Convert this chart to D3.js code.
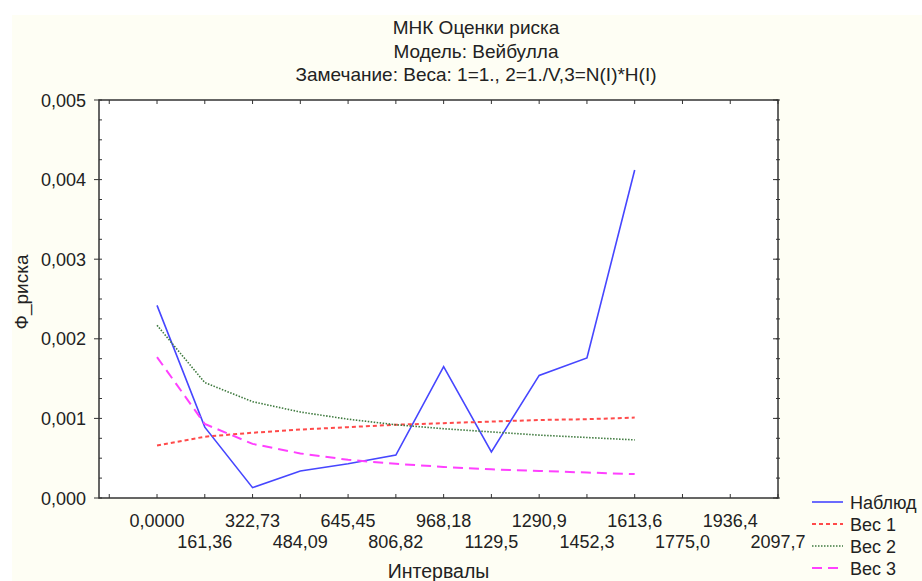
<!DOCTYPE html>
<html>
<head>
<meta charset="utf-8">
<script src="https://cdn.jsdelivr.net/npm/d3@7"></script>
<style>
  body { margin: 0; background: #fff; }
  text { font-family: "Liberation Sans", Arial, sans-serif; fill: #222; font-size: 18px; }
</style>
</head>
<body>
<svg width="922" height="581"></svg>
<script>
const titles = ['МНК Оценки риска', 'Модель: Вейбулла', 'Замечание: Веса: 1=1., 2=1./V,3=N(I)*H(I)']
const intervals = [0, 161.36, 322.73, 484.09, 645.45, 806.82, 968.18, 1129.5, 1290.9, 1452.3, 1613.6]
const xTickValues = [-161.36, 0, 161.36, 322.73, 484.09, 645.45, 806.82, 968.18, 1129.5, 1290.9, 1452.3, 1613.6, 1775.0, 1936.4, 2097.7]
const xTickLabels = ['', '0,0000', '161,36', '322,73', '484,09', '645,45', '806,82', '968,18', '1129,5', '1290,9', '1452,3', '1613,6', '1775,0', '1936,4', '2097,7']
const yTickValues = [0, 0.001, 0.002, 0.003, 0.004, 0.005]
const yTickLabels = ['0,000', '0,001', '0,002', '0,003', '0,004', '0,005']

const observed = [0.00242, 0.00089, 0.00013, 0.00034, 0.00043, 0.00054, 0.00165, 0.00058, 0.00154, 0.00176, 0.00412]
const weight1 = [0.00066, 0.00077, 0.00082, 0.00086, 0.00089, 0.00092, 0.00094, 0.00096, 0.00098, 0.00099, 0.00101]
const weight2 = [0.00217, 0.00145, 0.00121, 0.00108, 0.00099, 0.00092, 0.00087, 0.00083, 0.00079, 0.00076, 0.00073]
const weight3 = [0.00177, 0.00093, 0.00068, 0.00056, 0.00048, 0.00043, 0.00039, 0.00036, 0.00034, 0.00032, 0.0003]

const series = [
    { name: 'Наблюд', values: observed, color: '#4646ff', dash: null, w: 1.6 },
    { name: 'Вес 1', values: weight1, color: '#ff4a4a', dash: '4,3', w: 2 },
    { name: 'Вес 2', values: weight2, color: '#3f7a3f', dash: '1.5,1.5', w: 1.6 },
    { name: 'Вес 3', values: weight3, color: '#ff40ff', dash: '10,6', w: 2 }
]

const plot = { left: 99, top: 100, right: 778, bottom: 498 }

const svg = d3.select('svg')

svg.append('rect')
    .attr('x', 12).attr('y', 15)
    .attr('width', 910).attr('height', 566)
    .attr('fill', '#fefef4')

svg.append('rect')
    .attr('x', plot.left).attr('y', plot.top)
    .attr('width', plot.right - plot.left).attr('height', plot.bottom - plot.top)
    .attr('fill', '#fff')

const xScale = d3.scaleLinear()
    .domain([-196, 2097.7])
    .range([plot.left, plot.right])

const yScale = d3.scaleLinear()
    .domain([0, 0.005])
    .range([plot.bottom, plot.top])

function drawTitle () {
    svg.selectAll('.title')
        .data(titles)
        .enter()
        .append('text')
        .attr('class', 'title')
        .attr('x', 476)
        .attr('y', (d, i) => 34 + i * 23.7)
        .attr('text-anchor', 'middle')
        .style('font-size', '19px')
        .text(d => d)
}

function drawAxes () {
    // x ticks, top and bottom, pointing inward
    const xa = svg.append('g')
    xa.selectAll('.xb')
        .data(xTickValues)
        .enter()
        .append('line')
        .attr('x1', d => xScale(d)).attr('x2', d => xScale(d))
        .attr('y1', plot.bottom).attr('y2', plot.bottom - 4)
        .attr('stroke', '#333')
    xa.selectAll('.xt')
        .data(xTickValues)
        .enter()
        .append('line')
        .attr('x1', d => xScale(d)).attr('x2', d => xScale(d))
        .attr('y1', plot.top).attr('y2', plot.top + 4)
        .attr('stroke', '#333')

    xa.selectAll('.xl')
        .data(xTickValues)
        .enter()
        .append('text')
        .attr('x', d => xScale(d))
        .attr('y', (d, i) => i % 2 === 1 ? 526.5 : 547.5)
        .attr('text-anchor', 'middle')
        .text((d, i) => xTickLabels[i])

    // y ticks, minor every 0.00025
    const minor = d3.range(0, 21).map(i => i * 0.00025)
    const ya = svg.append('g')
    ya.selectAll('.yl')
        .data(minor)
        .enter()
        .append('line')
        .attr('x1', plot.left).attr('x2', plot.left + 3)
        .attr('y1', d => yScale(d)).attr('y2', d => yScale(d))
        .attr('stroke', '#333')
    ya.selectAll('.yr')
        .data(minor)
        .enter()
        .append('line')
        .attr('x1', plot.right - 2).attr('x2', plot.right + 2)
        .attr('y1', d => yScale(d)).attr('y2', d => yScale(d))
        .attr('stroke', '#333')
    ya.selectAll('.ym')
        .data(yTickValues)
        .enter()
        .append('line')
        .attr('x1', plot.left - 5).attr('x2', plot.left)
        .attr('y1', d => yScale(d)).attr('y2', d => yScale(d))
        .attr('stroke', '#333')
    ya.selectAll('.ymr')
        .data(yTickValues)
        .enter()
        .append('line')
        .attr('x1', plot.right - 5).attr('x2', plot.right)
        .attr('y1', d => yScale(d)).attr('y2', d => yScale(d))
        .attr('stroke', '#333')

    ya.selectAll('.ytext')
        .data(yTickValues)
        .enter()
        .append('text')
        .attr('x', 86)
        .attr('y', d => yScale(d) + 6.5)
        .attr('text-anchor', 'end')
        .text((d, i) => yTickLabels[i])

    svg.append('rect')
        .attr('x', plot.left).attr('y', plot.top)
        .attr('width', plot.right - plot.left).attr('height', plot.bottom - plot.top)
        .attr('fill', 'none')
        .attr('stroke', '#333')
        .attr('stroke-width', 1.5)
}

function drawAxisTitles () {
    svg.append('text')
        .attr('transform', 'translate(28, 292) rotate(-90)')
        .attr('text-anchor', 'middle')
        .style('font-size', '19px')
        .text('Ф_риска')

    svg.append('text')
        .attr('x', (plot.left + plot.right) / 2)
        .attr('y', 578)
        .attr('text-anchor', 'middle')
        .style('font-size', '19.5px')
        .text('Интервалы')
}

function drawLines () {
    const line = d3.line()
        .x((d, i) => xScale(intervals[i]))
        .y(d => yScale(d))

    svg.append('g')
        .selectAll('path')
        .data(series)
        .enter()
        .append('path')
        .attr('d', s => line(s.values))
        .attr('fill', 'none')
        .attr('stroke', s => s.color)
        .attr('stroke-width', s => s.w)
        .attr('stroke-dasharray', s => s.dash)
}

function drawLegend () {
    const lg = svg.append('g')
        .selectAll('g')
        .data(series)
        .enter()
        .append('g')
        .attr('transform', (s, i) => `translate(812, ${502 + i * 22})`)

    lg.append('line')
        .attr('x1', 0).attr('x2', 31)
        .attr('stroke', s => s.color)
        .attr('stroke-width', s => s.w)
        .attr('stroke-dasharray', s => s.dash)

    lg.append('text')
        .attr('x', 38)
        .attr('y', 6.5)
        .text(s => s.name)
}

drawTitle()
drawLines()
drawAxes()
drawAxisTitles()
drawLegend()
</script>
</body>
</html>
